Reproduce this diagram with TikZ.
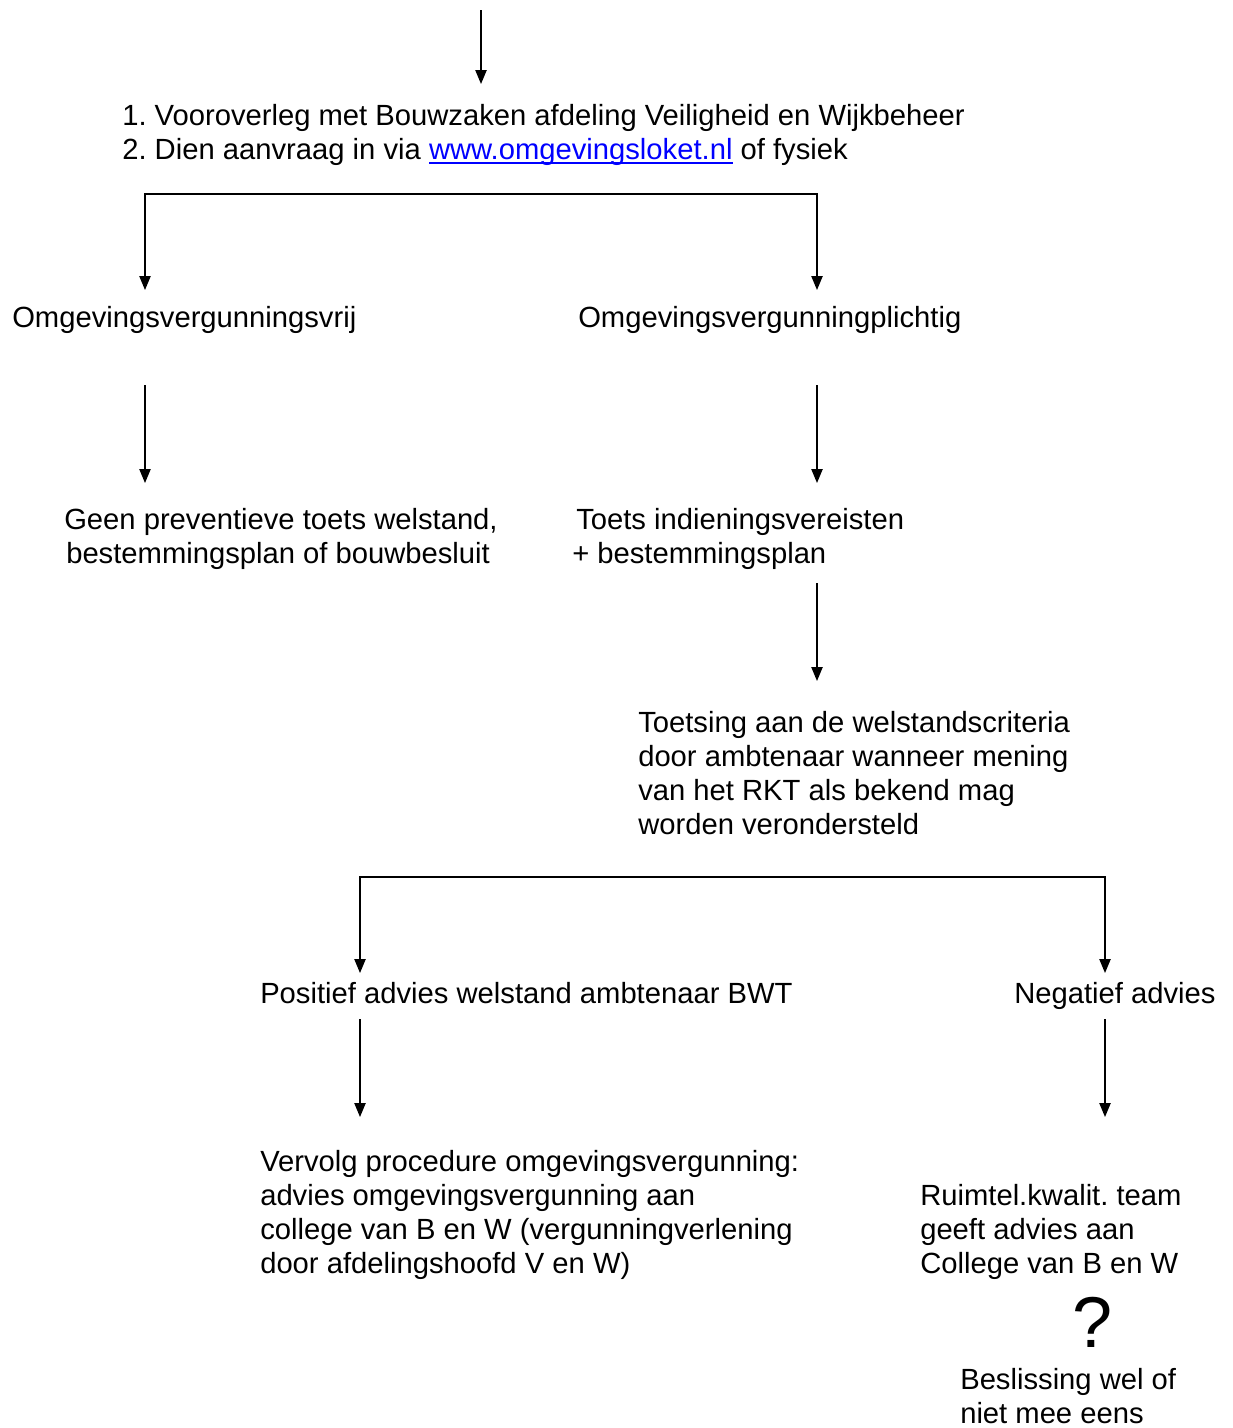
\documentclass[tikz,border=0pt]{standalone}
\usepackage{fontspec}
\setmainfont{Liberation Sans}
\usetikzlibrary{arrows.meta}
\newcommand\linkul[1]{\setbox0\hbox{#1}\rlap{\copy0}\rule[-3pt]{\wd0}{1.1pt}}
\frenchspacing
\begin{document}
\begin{tikzpicture}[x=0.75pt,y=-0.75pt,
  txt/.style={inner sep=0pt, anchor=west, align=left, font=\fontsize{21.9}{25.5}\selectfont\frenchspacing},
  tip/.tip={Triangle[width=8.5pt,length=10.5pt]},
  arr/.style={line width=1pt, -tip},
  darr/.style={line width=1pt, tip-tip}]
\useasboundingbox (0,0) rectangle (1232,1428);
% texts
\node[txt] (intro) at (122,135) {1. Vooroverleg met Bouwzaken afdeling Veiligheid en Wijkbeheer\\2. Dien aanvraag in via {\color{blue}\linkul{www.omgevingsloket.nl}} of fysiek};
\node[txt] (vrij) at (12,320) {Omgevingsvergunningsvrij};
\node[txt] (plicht) at (578,320) {Omgevingsvergunningplichtig};
\node[txt] (geen) at (64,539) {Geen preventieve toets welstand,\\\hspace{1.5pt}bestemmingsplan of bouwbesluit};
\node[txt] (toets) at (572,539) {\hspace{3pt}Toets indieningsvereisten\\+ bestemmingsplan};
\node[txt] (toetsing) at (638,773.5) {Toetsing aan de welstandscriteria\\door ambtenaar wanneer mening\\van het RKT als bekend mag\\worden verondersteld};
\node[txt] (pos) at (260,993) {Positief advies welstand ambtenaar BWT};
\node[txt] (neg) at (1014,996) {Negatief advies};
\node[txt] (vervolg) at (260,1215) {Vervolg procedure omgevingsvergunning:\\advies omgevingsvergunning aan\\college van B en W (vergunningverlening\\door afdelingshoofd V en W)};
\node[txt] (ruimtel) at (920,1232) {Ruimtel.kwalit. team\\geeft advies aan\\College van B en W};
\node[inner sep=0pt, font=\fontsize{54}{60}\selectfont] (q) at (1093,1322) {?};
\node[txt] (besl) at (960,1396.5) {Beslissing wel of\\niet mee eens};
% coordinates
\coordinate (t0) at (481,10);
\coordinate (t1) at (481,84);
\coordinate (a1) at (145,290);
\coordinate (b1) at (817,194);
\coordinate (c1) at (817,290);
\coordinate (v0) at (145,385);
\coordinate (v1) at (145,483);
\coordinate (p0) at (817,385);
\coordinate (p1) at (817,483);
\coordinate (s0) at (817,583);
\coordinate (s1) at (817,681);
\coordinate (a2) at (360,973);
\coordinate (b2) at (1105,877);
\coordinate (c2) at (1105,973);
\coordinate (x0) at (360,1019);
\coordinate (x1) at (360,1117);
\coordinate (n0) at (1105,1019);
\coordinate (n1) at (1105,1117);
% connectors
\draw[arr] (t0) -- (t1);
\draw[darr] (a1) |- (b1) -- (c1);
\draw[arr] (v0) -- (v1);
\draw[arr] (p0) -- (p1);
\draw[arr] (s0) -- (s1);
\draw[darr] (a2) |- (b2) -- (c2);
\draw[arr] (x0) -- (x1);
\draw[arr] (n0) -- (n1);
\end{tikzpicture}
\end{document}
